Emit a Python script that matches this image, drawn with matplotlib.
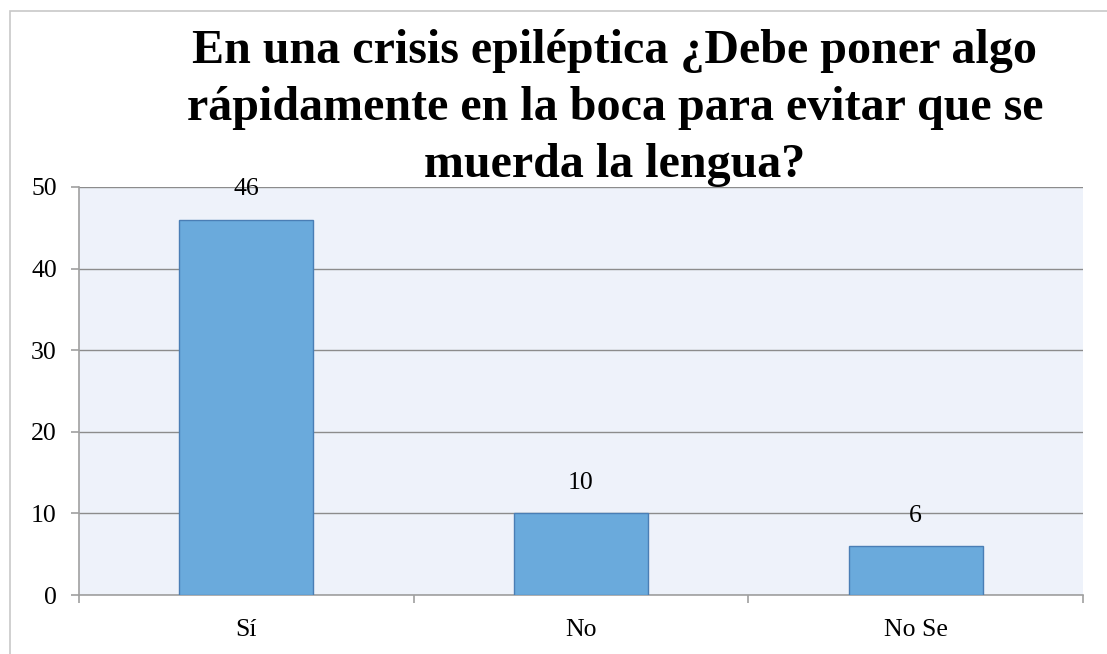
import matplotlib
matplotlib.use("Agg")
import matplotlib.pyplot as plt
from matplotlib.patches import Rectangle

categories = ["Sí", "No", "No Se"]
values = [46, 10, 6]
y_ticks = [0, 10, 20, 30, 40, 50]
title_lines = ["En una crisis epiléptica ¿Debe poner algo",
               "rápidamente en la boca para evitar que se",
               "muerda la lengua?"]

plt.rcParams["font.family"] = ["Liberation Serif", "DejaVu Serif"]

fig = plt.figure(figsize=(11.07, 6.54), dpi=100)
W, H = 1107, 654

# outer chart border (only left and top edges are inside the picture)
fig.patches.append(Rectangle((9.5 / W, -0.2), 1.2, 1.2 - 11 / H, transform=fig.transFigure,
                             fill=False, edgecolor="#c8c8c8", lw=1.2))

ax = fig.add_axes([79 / W, 1 - 595 / H, (1083 - 79) / W, (595 - 187) / H])
ax.set_facecolor("#eef2fa")
x = list(range(len(categories)))
bars = ax.bar(x, values, width=0.4, color="#6aaadc", edgecolor="#4a7eb5", lw=1.0, zorder=3)
ax.set_xlim(-0.5, len(categories) - 0.5)
ax.set_ylim(0, 50)
ax.set_yticks(y_ticks)
ax.set_yticklabels([str(v) for v in y_ticks], fontsize=18.5)
ax.yaxis.grid(True, color="#8c8c8c", lw=1.0, zorder=1)
ax.set_axisbelow(True)

ax.set_xticks([i - 0.5 for i in range(len(categories) + 1)], minor=False)
ax.set_xticklabels([""] * (len(categories) + 1))
ax.set_xticks(x, minor=True)
ax.set_xticklabels(categories, minor=True, fontsize=18.5)
ax.tick_params(axis="x", which="minor", length=0, pad=17)
ax.tick_params(axis="x", which="major", length=6, color="#a0a0a0", width=1.2)
ax.tick_params(axis="y", length=6, color="#a0a0a0", width=1.2, pad=10)

for side in ["top", "right"]:
    ax.spines[side].set_visible(False)
for side in ["left", "bottom"]:
    ax.spines[side].set_color("#a0a0a0")
    ax.spines[side].set_linewidth(1.2)

for b, v in zip(bars, values):
    ax.annotate(str(v), (b.get_x() + b.get_width() / 2, v), xytext=(0, 14),
                textcoords="offset points", ha="center", va="bottom", fontsize=18.5)

# title, one text per line so each line sits on its own baseline
for i, line in enumerate(title_lines):
    fig.text(615 / W, 1 - (63 + 57 * i) / H, line, ha="center", va="baseline",
             fontsize=34.6, fontweight="bold")

fig.savefig("out.png", dpi=100)
